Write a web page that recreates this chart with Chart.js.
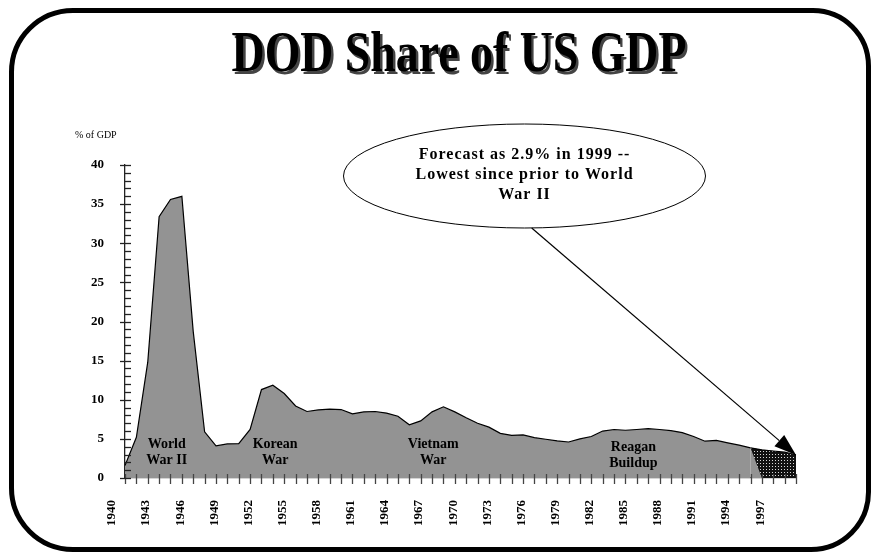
<!DOCTYPE html>
<html>
<head>
<meta charset="utf-8">
<title>DOD Share of US GDP</title>
<script src="https://cdn.jsdelivr.net/npm/chart.js@4.4.1/dist/chart.umd.min.js"></script>
<style>
  body { margin: 0; background: #fff; }
  #frame {
    position: absolute; left: 9px; top: 8px; width: 862px; height: 544px;
    box-sizing: border-box; border: 5px solid #000;
    border-radius: 64px 58px 60px 64px;
  }
  #title {
    position: absolute; left: 23px; top: 18px; width: 872px; line-height: 58px;
    text-align: center; font: bold 58px "Liberation Serif", serif; color: #000;
    text-shadow: 3px 3px 0 #444; transform: scaleX(0.79);
  }
  #wrap { position: absolute; left: 0; top: 0; width: 872px; height: 553px; }
</style>
</head>
<body>
<div id="frame"></div>
<div id="title">DOD Share of US GDP</div>
<div id="wrap"><canvas id="chart"></canvas></div>
<script>
// fiscal years on the x axis
const years = [
  "1940", "1941", "1942", "1943", "1944", "1945", "1946", "1947", "1948", "1949",
  "1950", "1951", "1952", "1953", "1954", "1955", "1956", "1957", "1958", "1959",
  "1960", "1961", "1962", "1963", "1964", "1965", "1966", "1967", "1968", "1969",
  "1970", "1971", "1972", "1973", "1974", "1975", "1976", "1977", "1978", "1979",
  "1980", "1981", "1982", "1983", "1984", "1985", "1986", "1987", "1988", "1989",
  "1990", "1991", "1992", "1993", "1994", "1995", "1996", "1997", "1998", "1999",
];

// actual DOD share of GDP (%), drops to 0 where the forecast takes over
const actualShare = [
  1.6, 5.2, 14.8, 33.4, 35.6, 36.0, 18.7, 5.9, 4.1, 4.35,
  4.4, 6.2, 11.3, 11.85, 10.8, 9.2, 8.5, 8.7, 8.8, 8.75,
  8.2, 8.45, 8.5, 8.3, 7.9, 6.8, 7.3, 8.45, 9.1, 8.45,
  7.7, 7.0, 6.5, 5.7, 5.45, 5.5, 5.15, 4.95, 4.75, 4.6,
  5.0, 5.3, 6.0, 6.2, 6.1, 6.2, 6.3, 6.2, 6.05, 5.8,
  5.3, 4.7, 4.8, 4.5, 4.2, 3.85, 0, 0, 0, 0,
];

// forecast share (%), 1995 - 1999
const forecastShare = [
  null, null, null, null, null, null, null, null, null, null,
  null, null, null, null, null, null, null, null, null, null,
  null, null, null, null, null, null, null, null, null, null,
  null, null, null, null, null, null, null, null, null, null,
  null, null, null, null, null, null, null, null, null, null,
  null, null, null, null, null, 3.85, 3.6, 3.45, 3.3, 2.95,
];

// labels written inside the area
const eraNotes = [
  ["World", "War II"],
  ["Korean", "War"],
  ["Vietnam", "War"],
  ["Reagan", "Buildup"],
];
const eraYears = [3.67, 13.2, 27.1, 44.7];

const calloutLines = ["Forecast as 2.9% in 1999 --", "Lowest since prior to World", "War II"];

// dotted fill for the forecast part
function dotPattern() {
  const c = document.createElement("canvas");
  c.width = 3;
  c.height = 3;
  const g = c.getContext("2d");
  g.fillStyle = "#111";
  g.fillRect(0, 0, 3, 3);
  g.fillStyle = "#d8d8d8";
  g.fillRect(1, 1, 1, 1);
  return g.createPattern(c, "repeat");
}

function line(ctx, x1, y1, x2, y2) {
  ctx.beginPath();
  ctx.moveTo(x1, y1);
  ctx.lineTo(x2, y2);
  ctx.stroke();
}

const decor = {
  id: "decor",
  afterDraw(chart) {
    const ctx = chart.ctx;
    const xs = chart.scales.x;
    const ys = chart.scales.y;
    const x0 = xs.left;
    const y0 = ys.getPixelForValue(0);
    ctx.save();

    // x tick marks cross the axis
    ctx.strokeStyle = "#444";
    ctx.lineWidth = 1.3;
    for (let i = 0; i < years.length; i++) {
      const px = Math.round(xs.getPixelForValue(i)) + 0.5;
      line(ctx, px, y0 - 4, px, y0 + 6);
    }
    // y tick marks, minor every 1, major every 5
    ctx.strokeStyle = "#222";
    for (let v = 0; v <= 40; v++) {
      const py = Math.round(ys.getPixelForValue(v)) + 0.5;
      if (v % 5 === 0) line(ctx, x0 - 5, py, x0 + 6, py);
      else line(ctx, x0, py, x0 + 6, py);
    }

    // era notes
    ctx.fillStyle = "#000";
    ctx.font = 'bold 14px "Liberation Serif"';
    ctx.textAlign = "center";
    ctx.textBaseline = "middle";
    for (let i = 0; i < eraNotes.length; i++) {
      const px = xs.getPixelForValue(eraYears[i]);
      const drop = i === 3 ? 3 : 0;
      ctx.fillText(eraNotes[i][0], px, ys.getPixelForValue(4.3) + drop);
      ctx.fillText(eraNotes[i][1], px, ys.getPixelForValue(2.25) + drop);
    }

    // y axis caption
    ctx.font = '10px "Liberation Serif"';
    ctx.textAlign = "left";
    ctx.fillText("% of GDP", 75, 135);

    // callout
    const cx = 524.5, cy = 176;
    ctx.beginPath();
    ctx.ellipse(cx, cy, 181, 52, 0, 0, Math.PI * 2);
    ctx.fillStyle = "#fff";
    ctx.fill();
    ctx.strokeStyle = "#000";
    ctx.lineWidth = 1;
    ctx.stroke();
    ctx.fillStyle = "#000";
    ctx.font = 'bold 16px "Liberation Serif"';
    ctx.textAlign = "center";
    ctx.letterSpacing = "1px";
    calloutLines.forEach((t, k) => ctx.fillText(t, cx, 155 + k * 20));
    ctx.letterSpacing = "0px";

    // arrow to the 1999 forecast value
    const tx = xs.getPixelForValue(59);
    const ty = ys.getPixelForValue(2.95);
    const sx = 531.7, sy = 228;
    const ang = Math.atan2(ty - sy, tx - sx);
    const head = 22, half = 7.5;
    const bx = tx - head * Math.cos(ang), by = ty - head * Math.sin(ang);
    ctx.lineWidth = 1.2;
    line(ctx, sx, sy, bx, by);
    ctx.beginPath();
    ctx.moveTo(tx, ty);
    ctx.lineTo(bx + half * Math.sin(ang), by - half * Math.cos(ang));
    ctx.lineTo(bx - half * Math.sin(ang), by + half * Math.cos(ang));
    ctx.closePath();
    ctx.fill();

    ctx.restore();
  },
};

const tickFont = { family: "Liberation Serif", size: 13, weight: "bold" };

new Chart(document.getElementById("chart"), {
  type: "line",
  data: {
    labels: years,
    datasets: [
      {
        label: "Actual",
        data: actualShare,
        borderColor: "#000",
        borderWidth: 1.2,
        backgroundColor: "#939393",
        fill: "origin",
        pointRadius: 0,
        segment: {
          borderColor: (c) => (c.p1DataIndex > 55 ? "rgba(0,0,0,0)" : "#000"),
        },
      },
      {
        // drawn first, the actual area covers its lower left corner
        label: "Forecast",
        data: forecastShare,
        borderColor: "#000",
        borderWidth: 1.2,
        backgroundColor: dotPattern(),
        fill: "origin",
        pointRadius: 0,
      },
    ],
  },
  options: {
    responsive: true,
    maintainAspectRatio: false,
    animation: false,
    layout: { padding: { left: 0, top: 165, right: 76, bottom: 0 } },
    plugins: { legend: { display: false }, tooltip: { enabled: false } },
    scales: {
      x: {
        type: "category",
        offset: false,
        z: 1,
        grid: { display: false },
        border: { display: true, color: "#555", width: 1.3 },
        ticks: {
          autoSkip: false,
          minRotation: 90,
          maxRotation: 90,
          padding: 14,
          labelOffset: -13,
          color: "#000",
          font: tickFont,
          callback: (v, i) => (i % 3 === 0 && i < 58 ? years[i] : ""),
        },
        afterFit: (s) => { s.height = 75; },
      },
      y: {
        min: 0,
        max: 40,
        z: 1,
        grid: { display: false },
        border: { display: true, color: "#222", width: 1.3 },
        ticks: {
          stepSize: 1,
          autoSkip: false,
          padding: 13,
          color: "#000",
          font: tickFont,
          callback: (v) => (v % 5 === 0 ? v : ""),
        },
        afterFit: (s) => { s.width = 125; },
      },
    },
  },
  plugins: [decor],
});
</script>
</body>
</html>
